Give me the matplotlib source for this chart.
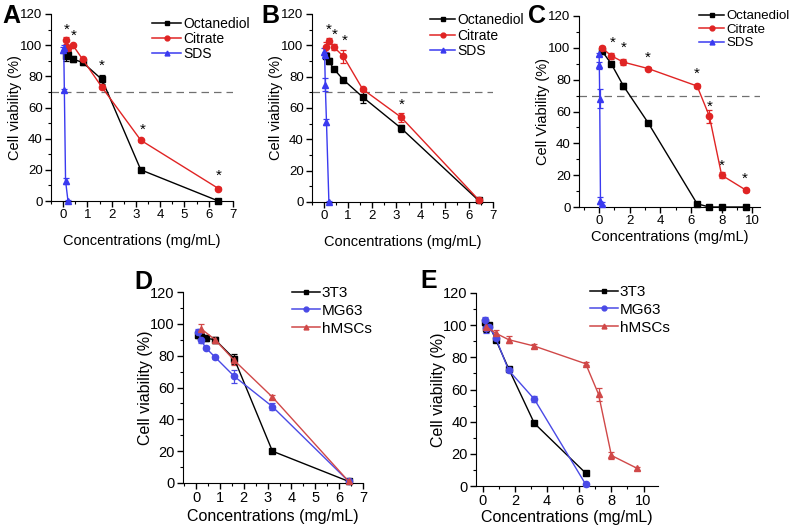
import numpy as np
import matplotlib
matplotlib.use("Agg")
import matplotlib.pyplot as plt
from matplotlib.ticker import MultipleLocator

plt.rcParams['font.family'] = ['Liberation Sans', 'DejaVu Sans']

# ---------- data ----------
conc7 = [0.1, 0.2, 0.4, 0.8, 1.6, 3.2, 6.4]
conc8 = [0.2, 0.8, 1.6, 3.2, 6.4, 7.2, 8.0, 9.6]
sds_conc = [0.0125, 0.025, 0.05, 0.1, 0.2]

# panel A
a_oct = [93, 94, 91, 89, 78, 20, 0]
a_oct_err = [3, 2, 2, 2, 3, 1, 1]
a_cit = [103, 98, 100, 91, 73, 39, 8]
a_cit_err = [2, 2, 1, 1, 1, 1, 1]
a_sds = [97, 98, 71, 13, 0]
a_sds_err = [2, 2, 1, 2, 0.5]
a_star_x = [0.14, 0.42, 1.6, 3.27, 6.4]
a_star_y = [110, 106, 87, 46, 16]

# panel B
b_oct = [93, 90, 85, 78, 67, 47, 1]
b_oct_err = [2, 2, 1, 1, 4, 2, 1]
b_cit = [99, 103, 99, 93, 72, 54, 1.5]
b_cit_err = [3, 2, 2, 4, 1, 3, 1]
b_sds = [96, 94, 75, 51, 0]
b_sds_err = [2, 2, 4, 2, 0.5]
b_star_x = [0.2, 0.44, 0.86, 3.2]
b_star_y = [110, 107, 103, 62]

# panel C
c_oct = [98, 90, 76, 53, 2, 0, 0, 0]
c_oct_err = [2, 1, 2, 1, 1, 0.5, 0.5, 0.5]
c_cit = [100, 95, 91, 87, 76, 57, 20, 10.5]
c_cit_err = [1, 2, 2, 1, 1, 4, 2, 1]
c_sds = [96, 89, 68, 4, 2]
c_sds_err = [1, 2, 6, 2, 1]
c_star_x = [0.87, 1.6, 3.2, 6.4, 7.2, 8.0, 9.5]
c_star_y = [103, 100, 94, 84, 63, 26, 18]

# panel D
d_3t3 = [93, 92, 91, 90, 78, 20, 1]
d_3t3_err = [2, 2, 2, 2, 3, 1, 1]
d_mg63 = [95, 90, 85, 79, 67, 48, 1]
d_mg63_err = [2, 2, 1, 1, 4, 2, 1]
d_hmsc_x = [0.2, 0.8, 1.6, 3.2, 6.4]
d_hmsc = [97, 90, 77, 54, 1]
d_hmsc_err = [3, 2, 3, 1, 1]

# panel E
e_3t3 = [102, 98, 100, 91, 73, 39, 8]
e_3t3_err = [2, 2, 1, 1, 1, 1, 1]
e_mg63 = [103, 98, 99, 92, 72, 54, 1]
e_mg63_err = [2, 3, 2, 1, 1, 2, 1]
e_hmsc = [99, 95, 91, 87, 76, 57, 19, 11]
e_hmsc_err = [1, 2, 2, 1, 1, 4, 2, 1]

BLACK = '#000000'
RED = '#e02424'
BLUE = '#3a3af0'
RED2 = '#d04848'
BLUE2 = '#4a4ae6'

W, H = 789, 529
fig = plt.figure(figsize=(W / 100, H / 100), dpi=100)


def add_axes(left, right, top, bottom):
    """Axes box given in pixel coordinates."""
    return fig.add_axes([left / W, 1 - bottom / H, (right - left) / W, (bottom - top) / H])


def series(ax, x, y, err, color, marker, label):
    ax.errorbar(x, y, yerr=err, color=color, marker=marker, markersize=4.5,
                linewidth=1.0, elinewidth=0.9, capsize=2, capthick=0.9,
                clip_on=False, zorder=3)
    # plain line+marker handle for the legend
    ax.plot([], [], color=color, marker=marker, markersize=3.5, linewidth=1.1, label=label)


def style(ax, xlim, xmajor, ylabel, small=True, xpad=9):
    ax.set_xlim(*xlim)
    ax.set_ylim(0, 120)
    ax.xaxis.set_major_locator(MultipleLocator(xmajor))
    ax.xaxis.set_minor_locator(MultipleLocator(xmajor / 2))
    ax.yaxis.set_major_locator(MultipleLocator(20))
    ax.yaxis.set_minor_locator(MultipleLocator(10))
    ax.spines['top'].set_visible(False)
    ax.spines['right'].set_visible(False)
    tick_fs = 9.5 if small else 10.5
    lab_fs = 10.5 if small else 11.5
    ax.tick_params(which='major', direction='out', length=4, width=1, labelsize=tick_fs, pad=2)
    ax.tick_params(which='minor', direction='out', length=2, width=0.8)
    ax.set_xlabel('Concentrations (mg/mL)', fontsize=lab_fs, labelpad=xpad)
    ax.set_ylabel(ylabel, fontsize=lab_fs, labelpad=-1 if small else -2)
    ax.patch.set_alpha(0)


def legend(ax, x_px, top_px, fs, hl, ls):
    ax.legend(loc='upper left', bbox_to_anchor=(x_px / W, 1 - top_px / H),
              bbox_transform=fig.transFigure, frameon=False, borderpad=0,
              borderaxespad=0, fontsize=fs, handlelength=hl, handletextpad=0.15,
              labelspacing=ls)


def stars(ax, xs, ys):
    for x, y in zip(xs, ys):
        ax.text(x, y, '*', ha='center', va='center', fontsize=11)


# ---------- A ----------
axA = add_axes(51, 233, 14, 201)
series(axA, conc7, a_oct, a_oct_err, BLACK, 's', 'Octanediol')
series(axA, conc7, a_cit, a_cit_err, RED, 'o', 'Citrate')
series(axA, sds_conc, a_sds, a_sds_err, BLUE, '^', 'SDS')
axA.axhline(70, color='#707070', linestyle=(0, (6, 4)), linewidth=0.9)
stars(axA, a_star_x, a_star_y)
style(axA, (-0.5, 7), 1, 'Cell viability (%)')
legend(axA, 152, 17, 10, 2.1, 0.08)

# ---------- B ----------
axB = add_axes(312, 493, 14, 202)
series(axB, conc7, b_oct, b_oct_err, BLACK, 's', 'Octanediol')
series(axB, conc7, b_cit, b_cit_err, RED, 'o', 'Citrate')
series(axB, sds_conc, b_sds, b_sds_err, BLUE, '^', 'SDS')
axB.axhline(70, color='#707070', linestyle=(0, (6, 4)), linewidth=0.9)
stars(axB, b_star_x, b_star_y)
style(axB, (-0.5, 7), 1, 'Cell viability (%)')
legend(axB, 430, 13, 10, 1.8, 0.12)

# ---------- C ----------
axC = add_axes(579, 760, 16, 207)
series(axC, conc8, c_oct, c_oct_err, BLACK, 's', 'Octanediol')
series(axC, conc8, c_cit, c_cit_err, RED, 'o', 'Citrate')
series(axC, sds_conc, c_sds, c_sds_err, BLUE, '^', 'SDS')
axC.axhline(70, color='#707070', linestyle=(0, (6, 4)), linewidth=0.9)
stars(axC, c_star_x, c_star_y)
style(axC, (-1.3, 10.5), 2, 'Cell Viability (%)', xpad=2)
legend(axC, 699, 10, 9.5, 1.9, 0.1)

# ---------- D ----------
axD = add_axes(183, 363, 292, 483)
series(axD, conc7, d_3t3, d_3t3_err, BLACK, 's', '3T3')
series(axD, conc7, d_mg63, d_mg63_err, BLUE2, 'o', 'MG63')
series(axD, d_hmsc_x, d_hmsc, d_hmsc_err, RED2, '^', 'hMSCs')
style(axD, (-0.55, 7), 1, 'Cell viability (%)', small=False, xpad=3)
legend(axD, 292, 286, 11, 1.8, 0.25)

# ---------- E ----------
axE = add_axes(476, 658, 293, 486)
series(axE, conc7, e_3t3, e_3t3_err, BLACK, 's', '3T3')
series(axE, conc7, e_mg63, e_mg63_err, BLUE2, 'o', 'MG63')
series(axE, conc8, e_hmsc, e_hmsc_err, RED2, '^', 'hMSCs')
style(axE, (-0.43, 10.9), 2, 'Cell viability (%)', small=False, xpad=1)
legend(axE, 590, 285, 11, 1.8, 0.25)

# panel letters
for letter, px, py in [('A', 2, 23), ('B', 261, 23), ('C', 528, 23), ('D', 134, 289), ('E', 420, 288)]:
    fig.text(px / W, 1 - py / H, letter, fontsize=18, fontweight='bold', va='baseline', ha='left')

fig.savefig('out.png', dpi=100)
